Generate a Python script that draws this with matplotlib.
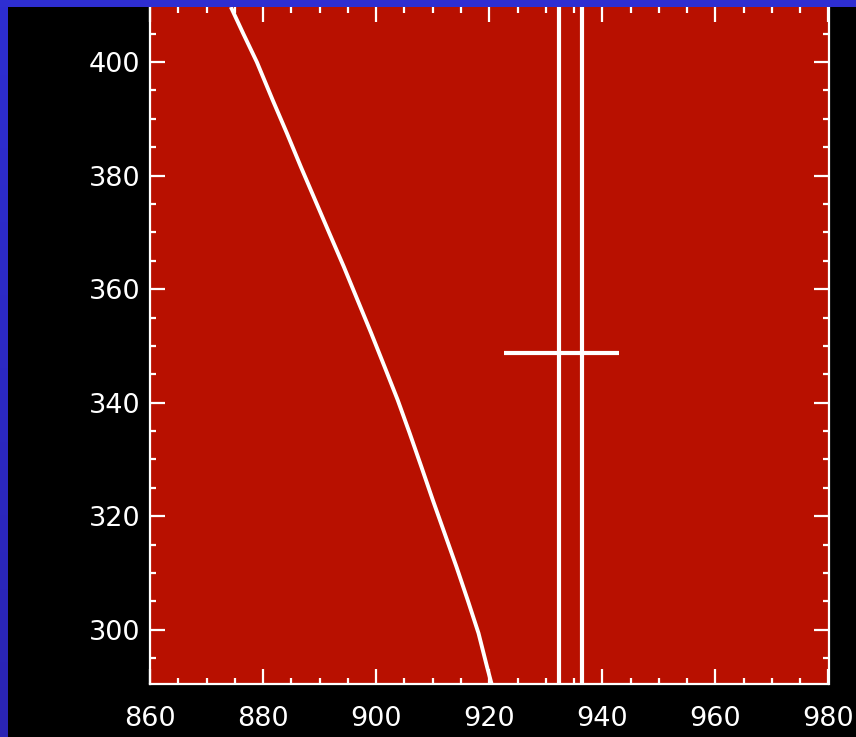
import numpy as np
import matplotlib
matplotlib.use("Agg")
import matplotlib.pyplot as plt
from matplotlib.patches import Rectangle
from matplotlib.ticker import MultipleLocator

# curve
curve_x = [874.3, 876.5, 878.9, 881.7, 884.2, 886.7, 889.2, 891.7, 894.3, 896.7, 899.1,
           901.5, 903.8, 905.9, 908.0, 910.0, 912.1, 914.2, 916.2, 918.1, 919.6, 920.4]
curve_y = [409.7, 405.0, 400.0, 393.3, 387.5, 381.5, 375.7, 369.9, 363.9, 358.1, 352.3,
           346.3, 340.5, 334.7, 328.7, 322.9, 317.0, 311.1, 305.2, 299.4, 293.5, 290.5]

# vertical marker lines and the horizontal cross bar
marker_x = [932.4, 936.35]
bar_x = [922.6, 942.9]
bar_y = 348.7

xlim = (860, 980)
ylim = (290.45, 409.7)
xticks = [860, 880, 900, 920, 940, 960, 980]
yticks = [300, 320, 340, 360, 380, 400]

red = "#b81000"
W, H = 856, 737

fig = plt.figure(figsize=(W / 100, H / 100), dpi=100)
fig.patch.set_facecolor("black")

ax = fig.add_axes([150 / W, (H - 684) / H, (828.5 - 150) / W, (684 - 7) / H])
ax.set_facecolor(red)

ax.plot(curve_x, curve_y, color="white", lw=2.8, solid_capstyle="butt",
        solid_joinstyle="round")
for mx in marker_x:
    ax.axvline(mx, color="white", lw=3.0)
ax.plot(bar_x, [bar_y, bar_y], color="white", lw=3.0, solid_capstyle="butt")

ax.set_xlim(*xlim)
ax.set_ylim(*ylim)
ax.set_xticks(xticks)
ax.set_yticks(yticks)
ax.xaxis.set_minor_locator(MultipleLocator(5))
ax.yaxis.set_minor_locator(MultipleLocator(5))

for s in ax.spines.values():
    s.set_color("white")
    s.set_linewidth(1.6)
ax.spines["top"].set_visible(False)

ax.tick_params(which="both", direction="in", colors="white", top=True, right=True,
               width=1.6)
ax.tick_params(which="major", length=10.5)
ax.tick_params(which="minor", length=4.5)
ax.tick_params(axis="x", which="major", pad=16, labelsize=19.5)
ax.tick_params(axis="y", which="major", pad=7, labelsize=19.5)

# blue frame strips (left and top)
grad = np.linspace(0, 1, 256).reshape(-1, 1)
band = fig.add_axes([0, 0, 8 / W, 1])
band.imshow(grad, aspect="auto", cmap=matplotlib.colors.LinearSegmentedColormap.from_list(
    "b", ["#2e2ed2", "#2a24b4"]), extent=[0, 1, 0, 1])
band.axis("off")
fig.patches.append(Rectangle((0, 1 - 7 / H), 1, 7 / H, transform=fig.transFigure,
                             facecolor="#2e2ed2", edgecolor="none", zorder=10))

fig.savefig("out.png", dpi=100, facecolor=fig.get_facecolor())
